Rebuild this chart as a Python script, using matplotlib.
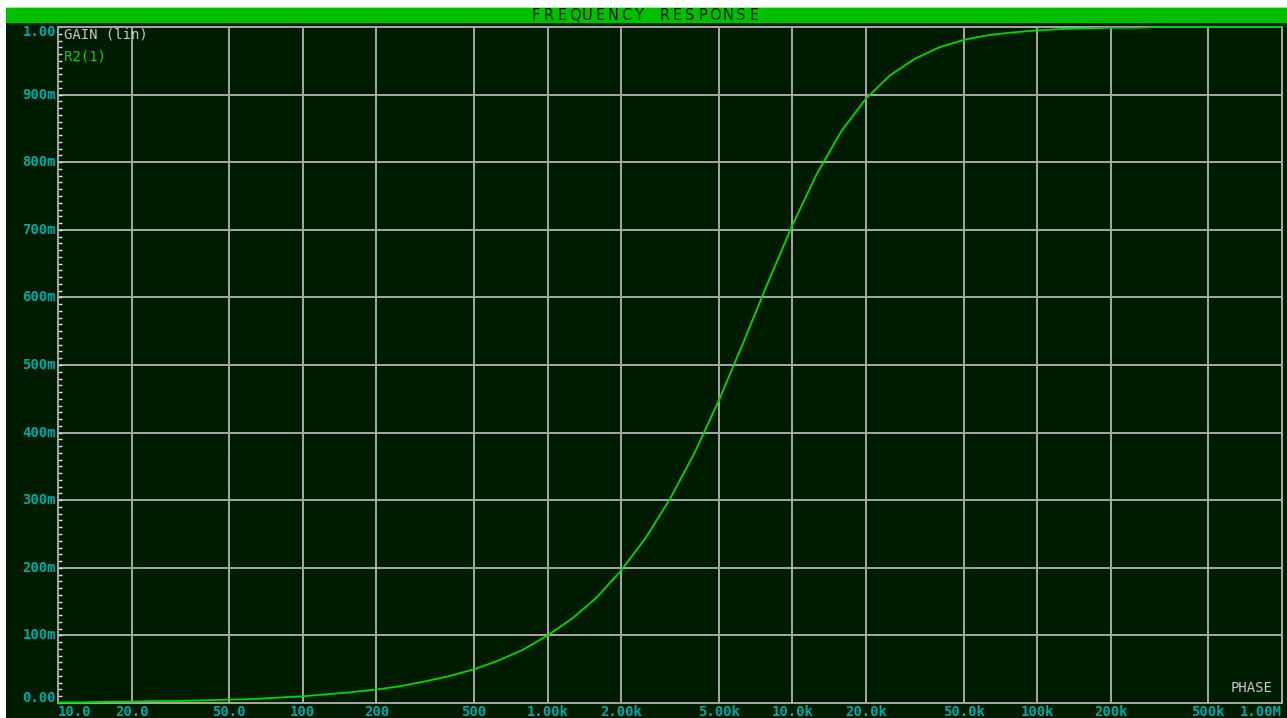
import matplotlib
matplotlib.use("Agg")
import matplotlib.pyplot as plt
from matplotlib.patches import Rectangle
from matplotlib.ticker import MultipleLocator, NullLocator
import matplotlib.transforms as mtransforms

W, H = 1287, 718

# gain readings of R2(1), ten points per decade from 10 Hz to 1 MHz
freq = [10, 12.6, 15.8, 20, 25.1, 31.6, 39.8, 50.1, 63.1, 79.4,
        100, 126, 158, 200, 251, 316, 398, 501, 631, 794,
        1000, 1259, 1585, 1995, 2512, 3162, 3981, 5012, 6310, 7943,
        10000, 12589, 15849, 19953, 25119, 31623, 39811, 50119, 63096, 79433,
        100000, 125893, 158489, 199526, 251189, 316228, 398107, 501187, 630957, 794328,
        1000000]
gain = [0.001, 0.001, 0.002, 0.002, 0.003, 0.003, 0.004, 0.005, 0.006, 0.008,
        0.010, 0.013, 0.016, 0.020, 0.025, 0.032, 0.040, 0.050, 0.063, 0.079,
        0.100, 0.125, 0.156, 0.196, 0.244, 0.302, 0.370, 0.448, 0.534, 0.622,
        0.707, 0.783, 0.846, 0.894, 0.929, 0.953, 0.970, 0.981, 0.988, 0.992,
        0.995, 0.997, 0.998, 0.999, 0.999, 1.000, 1.000, 1.000, 1.000, 1.000,
        1.000]

x_ticks = [10, 20, 50, 100, 200, 500, 1e3, 2e3, 5e3, 1e4, 2e4, 5e4, 1e5, 2e5, 5e5, 1e6]
x_labels = ["10.0", "20.0", "50.0", "100", "200", "500", "1.00k", "2.00k", "5.00k",
            "10.0k", "20.0k", "50.0k", "100k", "200k", "500k", "1.00M"]
y_ticks = [0.0, 0.1, 0.2, 0.3, 0.4, 0.5, 0.6, 0.7, 0.8, 0.9, 1.0]
y_labels = ["0.00", "100m", "200m", "300m", "400m", "500m", "600m", "700m", "800m", "900m", "1.00"]

BG = "#001c00"
BAR = "#00bf00"
GRID = "#a8a8a8"
CYAN = "#00a8a8"
TRACE = "#00d800"
LABEL = "#c8c8c8"
MONO = "DejaVu Sans Mono"


def fx(px):
    return px / W


def fy(py):
    # pixel rows counted from the top
    return 1 - py / H


fig = plt.figure(figsize=(W / 100, H / 100), dpi=100, facecolor="white")

# window background and title bar
fig.add_artist(Rectangle((fx(6), 0), 1 - fx(6), fy(22), transform=fig.transFigure,
                         facecolor=BG, edgecolor="none", zorder=0))
fig.add_artist(Rectangle((fx(6), fy(23)), 1 - fx(6), fy(8) - fy(23), transform=fig.transFigure,
                         facecolor=BAR, edgecolor="none", zorder=0))
fig.add_artist(Rectangle((fx(6), fy(8)), 1 - fx(6), fy(7) - fy(8), transform=fig.transFigure,
                         facecolor="#c8c8c8", edgecolor="none", zorder=0))

title = "FREQUENCY RESPONSE"
step = 12.8
x0 = 645 - step * (len(title) - 1) / 2
for i, ch in enumerate(title):
    fig.text(fx(x0 + i * step), fy(16), ch, ha="center", va="center",
             family="DejaVu Sans", fontsize=10.5, color="#002000")

left, right, top, bottom = 58, 1282, 27, 703
ax = fig.add_axes([fx(left), fy(bottom), fx(right - left), fy(top) - fy(bottom)])
ax.set_facecolor(BG)
ax.set_xscale("log")
ax.set_xlim(10, 1e6)
ax.set_ylim(0, 1)

for s in ax.spines.values():
    s.set_color(GRID)
    s.set_linewidth(1.4)

for xv in x_ticks[1:-1]:
    ax.axvline(xv, color=GRID, lw=1.4, zorder=1)
for yv in y_ticks[1:-1]:
    ax.axhline(yv, color=GRID, lw=1.4, zorder=1)

ax.xaxis.set_major_locator(NullLocator())
ax.xaxis.set_minor_locator(NullLocator())
ax.yaxis.set_major_locator(NullLocator())
ax.yaxis.set_minor_locator(MultipleLocator(0.01))
ax.tick_params(axis="y", which="minor", direction="in", length=3, width=1, color="#e0e0e0")

ax.plot(freq, gain, color=TRACE, lw=1.3, zorder=3, clip_on=False)

# axis labels placed along the axes
yt = mtransforms.blended_transform_factory(fig.transFigure, ax.transData)
for yv, lab in zip(y_ticks, y_labels):
    yy = yv
    if yv == 0.0:
        yy = 0.008
    elif yv == 1.0:
        yy = 0.992
    ax.text(fx(56), yy, lab, transform=yt, ha="right", va="center",
            family=MONO, fontweight="bold", fontsize=10, color=CYAN)

xt = mtransforms.blended_transform_factory(ax.transData, fig.transFigure)
for xv, lab in zip(x_ticks, x_labels):
    ha = "center"
    if xv == x_ticks[0]:
        ha = "left"
    elif xv == x_ticks[-1]:
        ha = "right"
    ax.text(xv, fy(712), lab, transform=xt, ha=ha, va="center",
            family=MONO, fontweight="bold", fontsize=10, color=CYAN, clip_on=False)

ax.text(fx(64), fy(34), "GAIN (lin)", transform=fig.transFigure, ha="left", va="center",
        family=MONO, fontsize=10, color=LABEL)
ax.text(fx(64), fy(56), "R2(1)", transform=fig.transFigure, ha="left", va="center",
        family=MONO, fontsize=10, color=TRACE)
ax.text(fx(1272), fy(688), "PHASE", transform=fig.transFigure, ha="right", va="center",
        family=MONO, fontsize=10, color=LABEL)

fig.savefig("out.png", dpi=100, facecolor=fig.get_facecolor())
